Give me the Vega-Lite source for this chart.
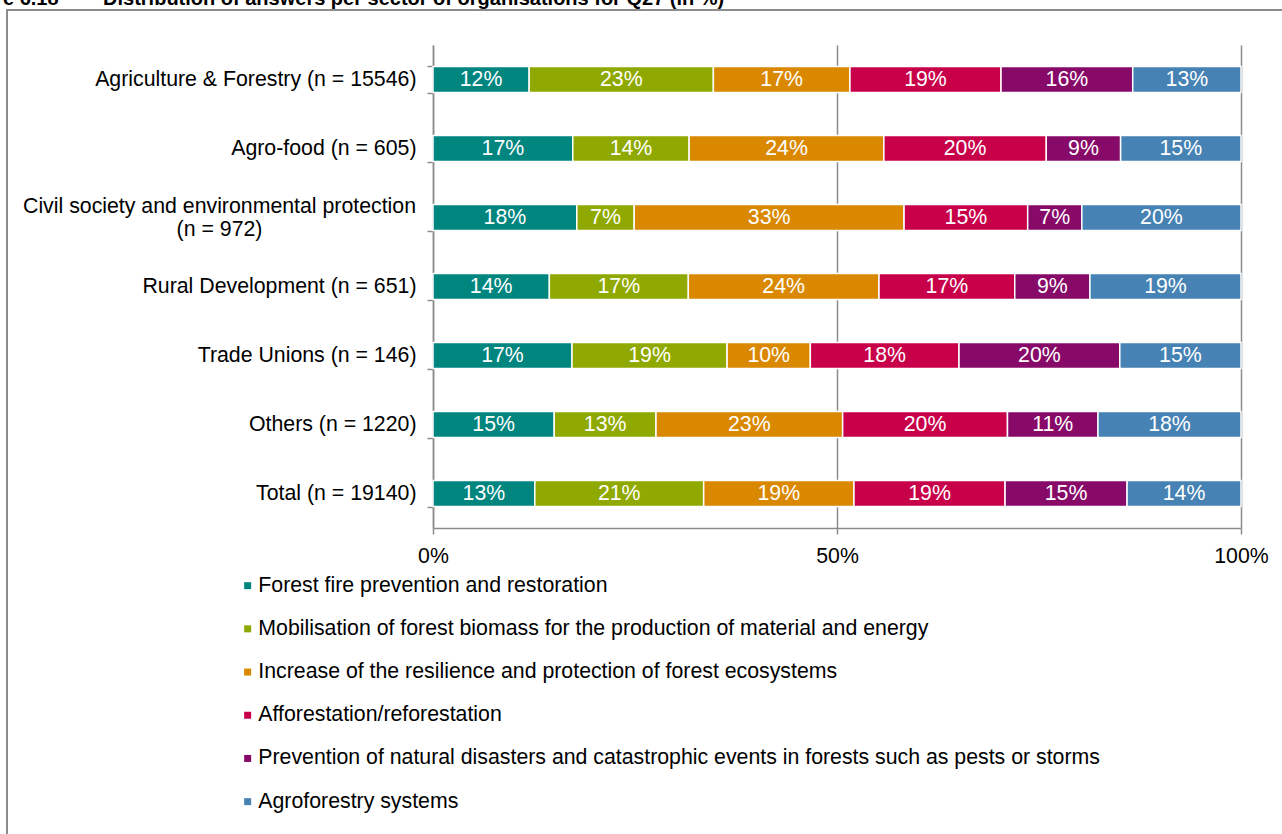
{
  "$schema": "https://vega.github.io/schema/vega-lite/v6.json",
  "width": 808,
  "height": 483,
  "autosize": {"type": "none"},
  "padding": {"left": 433, "top": 45, "right": 41, "bottom": 306},
  "background": "white",
  "title": {
    "text": "Figure 6.18\u00a0\u00a0\u00a0\u00a0\u00a0\u00a0\u00a0\u00a0Distribution of answers per sector of organisations for Q27 (in %)",
    "anchor": "start",
    "frame": "group",
    "font": "Liberation Sans",
    "fontSize": 20,
    "fontWeight": "bold",
    "color": "black",
    "baseline": "alphabetic",
    "offset": 0,
    "dx": -480,
    "dy": 16
  },
  "data": {
    "values": [
      {"sector": "Agriculture & Forestry (n = 15546)", "series": "Forest fire prevention and restoration", "k": 1, "v": 0.119},
      {"sector": "Agriculture & Forestry (n = 15546)", "series": "Mobilisation of forest biomass for the production of material and  energy", "k": 2, "v": 0.228},
      {"sector": "Agriculture & Forestry (n = 15546)", "series": "Increase of the resilience and protection of forest ecosystems", "k": 3, "v": 0.169},
      {"sector": "Agriculture & Forestry (n = 15546)", "series": "Afforestation/reforestation", "k": 4, "v": 0.187},
      {"sector": "Agriculture & Forestry (n = 15546)", "series": "Prevention of natural disasters and catastrophic events in forests such as pests or storms", "k": 5, "v": 0.163},
      {"sector": "Agriculture & Forestry (n = 15546)", "series": "Agroforestry systems", "k": 6, "v": 0.134},

      {"sector": "Agro-food (n = 605)", "series": "Forest fire prevention and restoration", "k": 1, "v": 0.173},
      {"sector": "Agro-food (n = 605)", "series": "Mobilisation of forest biomass for the production of material and  energy", "k": 2, "v": 0.144},
      {"sector": "Agro-food (n = 605)", "series": "Increase of the resilience and protection of forest ecosystems", "k": 3, "v": 0.241},
      {"sector": "Agro-food (n = 605)", "series": "Afforestation/reforestation", "k": 4, "v": 0.201},
      {"sector": "Agro-food (n = 605)", "series": "Prevention of natural disasters and catastrophic events in forests such as pests or storms", "k": 5, "v": 0.092},
      {"sector": "Agro-food (n = 605)", "series": "Agroforestry systems", "k": 6, "v": 0.149},

      {"sector": "Civil society and environmental protection (n = 972)", "series": "Forest fire prevention and restoration", "k": 1, "v": 0.178},
      {"sector": "Civil society and environmental protection (n = 972)", "series": "Mobilisation of forest biomass for the production of material and  energy", "k": 2, "v": 0.071},
      {"sector": "Civil society and environmental protection (n = 972)", "series": "Increase of the resilience and protection of forest ecosystems", "k": 3, "v": 0.334},
      {"sector": "Civil society and environmental protection (n = 972)", "series": "Afforestation/reforestation", "k": 4, "v": 0.153},
      {"sector": "Civil society and environmental protection (n = 972)", "series": "Prevention of natural disasters and catastrophic events in forests such as pests or storms", "k": 5, "v": 0.067},
      {"sector": "Civil society and environmental protection (n = 972)", "series": "Agroforestry systems", "k": 6, "v": 0.197},

      {"sector": "Rural Development (n = 651)", "series": "Forest fire prevention and restoration", "k": 1, "v": 0.144},
      {"sector": "Rural Development (n = 651)", "series": "Mobilisation of forest biomass for the production of material and  energy", "k": 2, "v": 0.172},
      {"sector": "Rural Development (n = 651)", "series": "Increase of the resilience and protection of forest ecosystems", "k": 3, "v": 0.236},
      {"sector": "Rural Development (n = 651)", "series": "Afforestation/reforestation", "k": 4, "v": 0.168},
      {"sector": "Rural Development (n = 651)", "series": "Prevention of natural disasters and catastrophic events in forests such as pests or storms", "k": 5, "v": 0.093},
      {"sector": "Rural Development (n = 651)", "series": "Agroforestry systems", "k": 6, "v": 0.187},

      {"sector": "Trade Unions (n = 146)", "series": "Forest fire prevention and restoration", "k": 1, "v": 0.172},
      {"sector": "Trade Unions (n = 146)", "series": "Mobilisation of forest biomass for the production of material and  energy", "k": 2, "v": 0.192},
      {"sector": "Trade Unions (n = 146)", "series": "Increase of the resilience and protection of forest ecosystems", "k": 3, "v": 0.103},
      {"sector": "Trade Unions (n = 146)", "series": "Afforestation/reforestation", "k": 4, "v": 0.184},
      {"sector": "Trade Unions (n = 146)", "series": "Prevention of natural disasters and catastrophic events in forests such as pests or storms", "k": 5, "v": 0.199},
      {"sector": "Trade Unions (n = 146)", "series": "Agroforestry systems", "k": 6, "v": 0.150},

      {"sector": "Others (n = 1220)", "series": "Forest fire prevention and restoration", "k": 1, "v": 0.150},
      {"sector": "Others (n = 1220)", "series": "Mobilisation of forest biomass for the production of material and  energy", "k": 2, "v": 0.126},
      {"sector": "Others (n = 1220)", "series": "Increase of the resilience and protection of forest ecosystems", "k": 3, "v": 0.231},
      {"sector": "Others (n = 1220)", "series": "Afforestation/reforestation", "k": 4, "v": 0.204},
      {"sector": "Others (n = 1220)", "series": "Prevention of natural disasters and catastrophic events in forests such as pests or storms", "k": 5, "v": 0.112},
      {"sector": "Others (n = 1220)", "series": "Agroforestry systems", "k": 6, "v": 0.177},

      {"sector": "Total (n = 19140)", "series": "Forest fire prevention and restoration", "k": 1, "v": 0.126},
      {"sector": "Total (n = 19140)", "series": "Mobilisation of forest biomass for the production of material and  energy", "k": 2, "v": 0.209},
      {"sector": "Total (n = 19140)", "series": "Increase of the resilience and protection of forest ecosystems", "k": 3, "v": 0.186},
      {"sector": "Total (n = 19140)", "series": "Afforestation/reforestation", "k": 4, "v": 0.187},
      {"sector": "Total (n = 19140)", "series": "Prevention of natural disasters and catastrophic events in forests such as pests or storms", "k": 5, "v": 0.151},
      {"sector": "Total (n = 19140)", "series": "Agroforestry systems", "k": 6, "v": 0.141}
    ]
  },
  "encoding": {
    "y": {
      "field": "sector",
      "type": "nominal",
      "title": null,
      "sort": ["Agriculture & Forestry (n = 15546)", "Agro-food (n = 605)", "Civil society and environmental protection (n = 972)", "Rural Development (n = 651)", "Trade Unions (n = 146)", "Others (n = 1220)", "Total (n = 19140)"],
      "scale": {"paddingInner": 0.62, "paddingOuter": 0.31},
      "axis": {
        "grid": false,
        "tickBand": "extent",
        "tickSize": 6,
        "tickColor": "#8c8c8c",
        "tickWidth": 1.5,
        "domainColor": "#8c8c8c",
        "domainWidth": 1.5,
        "labelFont": "Liberation Sans",
        "labelFontSize": 21.3,
        "labelColor": "black",
        "labelLimit": 450,
        "labelLineHeight": 23,
        "labelExpr": "datum.value == 'Civil society and environmental protection (n = 972)' ? ['Civil society and environmental protection', '(n = 972)'] : datum.value",
        "labelAlign": {"condition": {"test": "datum.value == 'Civil society and environmental protection (n = 972)'", "value": "center"}, "value": "right"},
        "labelPadding": {"condition": {"test": "datum.value == 'Civil society and environmental protection (n = 972)'", "value": 208}, "value": 11},
        "labelOffset": {"condition": {"test": "datum.value == 'Civil society and environmental protection (n = 972)'", "value": -11}, "value": 0}
      }
    },
    "x": {
      "field": "v",
      "type": "quantitative",
      "title": null,
      "stack": "zero",
      "scale": {"domain": [0, 1], "nice": false},
      "axis": {
        "values": [0, 0.5, 1],
        "format": ".0%",
        "grid": true,
        "gridColor": "#8c8c8c",
        "gridWidth": 1.5,
        "domainColor": "#8c8c8c",
        "domainWidth": 1.5,
        "tickColor": "#8c8c8c",
        "tickWidth": 1.5,
        "tickSize": 6,
        "labelFont": "Liberation Sans",
        "labelFontSize": 21.3,
        "labelColor": "black",
        "labelPadding": 11,
        "labelFlush": false
      }
    },
    "order": {"field": "k", "type": "quantitative"}
  },
  "layer": [
    {
      "mark": {"type": "bar", "stroke": "white", "strokeWidth": 1.5},
      "encoding": {
        "color": {
          "field": "series",
          "type": "nominal",
          "scale": {
            "domain": ["Forest fire prevention and restoration", "Mobilisation of forest biomass for the production of material and  energy", "Increase of the resilience and protection of forest ecosystems", "Afforestation/reforestation", "Prevention of natural disasters and catastrophic events in forests such as pests or storms", "Agroforestry systems"],
            "range": ["#00857f", "#8fa900", "#d98800", "#c8004a", "#870a69", "#4682b4"]
          },
          "legend": {
            "title": " ",
            "orient": "none",
            "legendX": -426,
            "legendY": -35,
            "direction": "vertical",
            "padding": 230,
            "strokeColor": "#8c8c8c",
            "titleFontSize": 1,
            "titlePadding": 334,
            "labelFont": "Liberation Sans",
            "labelFontSize": 21.3,
            "labelColor": "black",
            "labelLimit": 1000,
            "labelOffset": 0,
            "symbolType": "square",
            "symbolSize": 49,
            "symbolStrokeWidth": 0,
            "rowPadding": 21.2
          }
        }
      }
    },
    {
      "mark": {"type": "text", "color": "white", "font": "Liberation Sans", "fontSize": 21.3, "align": "center", "baseline": "middle"},
      "encoding": {
        "x": {"field": "v", "type": "quantitative", "stack": "zero", "bandPosition": 0.5},
        "detail": {"field": "series"},
        "text": {"field": "v", "type": "quantitative", "format": ".0%"}
      }
    }
  ],
  "config": {
    "view": {"stroke": null},
    "font": "Liberation Sans",
    "legend": {"strokeWidth": 2}
  }
}
